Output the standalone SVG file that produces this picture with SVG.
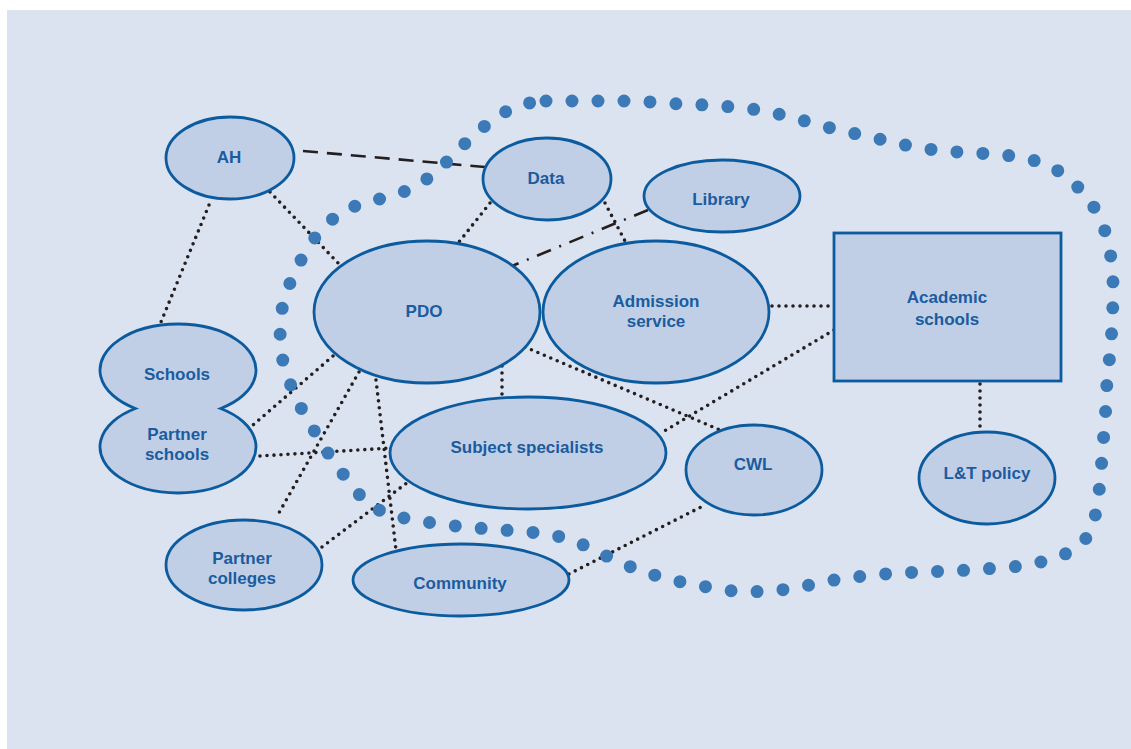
<svg xmlns="http://www.w3.org/2000/svg" width="1131" height="749" viewBox="0 0 1131 749">
<style>
.node{fill:#c1cfe6;stroke:#0b5b9e;stroke-width:2.8}
.lbl{font-family:"Liberation Sans",Arial,sans-serif;font-weight:bold;font-size:17px;fill:#1a5c9f;text-anchor:middle}
.dot{fill:none;stroke:#231f20;stroke-width:3.6;stroke-linecap:round;stroke-dasharray:0 7}
.dash{fill:none;stroke:#231f20;stroke-width:2.6;stroke-dasharray:15 9}
.dashdot{fill:none;stroke:#231f20;stroke-width:2.6;stroke-dasharray:15 9 2 9}
.blob{fill:none;stroke:#3b7ab6;stroke-width:13;stroke-linecap:round;stroke-linejoin:round}
</style>
<rect x="7" y="10" width="1124" height="739" fill="#dce3f0"/>
<g id="connectors">
<line class="dash" x1="303" y1="151" x2="485" y2="167"/>
<line class="dot" x1="209" y1="205" x2="161" y2="322"/>
<line class="dot" x1="270" y1="192" x2="340" y2="265"/>
<line class="dot" x1="490" y1="203" x2="459" y2="242"/>
<line class="dot" x1="605" y1="203" x2="625" y2="241"/>
<line class="dashdot" x1="648" y1="210" x2="512" y2="266"/>
<line class="dot" x1="772" y1="306" x2="834" y2="306"/>
<line class="dot" x1="834" y1="330" x2="661" y2="433"/>
<line class="dot" x1="980" y1="384" x2="980" y2="432"/>
<line class="dot" x1="525" y1="347" x2="720" y2="430"/>
<line class="dot" x1="502" y1="366" x2="502" y2="396"/>
<line class="dot" x1="333" y1="356" x2="253" y2="425"/>
<line class="dot" x1="359" y1="372" x2="276" y2="518"/>
<line class="dot" x1="376" y1="380" x2="396" y2="550"/>
<line class="dot" x1="260" y1="456" x2="391" y2="448"/>
<line class="dot" x1="322" y1="547" x2="408" y2="482"/>
<line class="dot" x1="569" y1="574" x2="705" y2="505"/>
</g>
<g id="boundary">
<path class="blob" stroke-dasharray="0 26" d="M546,101 L570,101 L597,101 L624,101 L652,102 L679,104 L706,105 L733,107 L760,110 L787,116 L812,123 L838,130 L866,136 L892,142 L918,148 L945,151 L972,153 L998,154 L1025,158 L1050,165 L1072,181 L1090,200 L1103,224 L1110,250 L1113,276 L1113,302 L1112,328 L1110,354 L1107,380 L1106,406 L1104,432 L1102,458 L1100,483 L1097,509 L1090,534 L1075,550 L1050,560 L1023,566 L997,568 L972,570 L947,571 L922,572 L897,573 L872,575 L847,578 L822,582 L797,588 L772,591 L747,592 L722,590 L697,585 L671,580 L644,572 L618,562 L593,549 L567,538 L540,533 L516,531 L490,529 L465,527 L439,524 L414,520 L389,515 L367,504 L350,483 L333,461 L318,437 L304,414 L292,389 L283,362 L280,336 L282,309 L290,283 L303,256 L318,233 L338,214 L364,202 L390,197 L416,187 L439,170 L456,152 L475,134 L496,117 L520,104 Z"/>
</g>
<g id="AH"><ellipse class="node" cx="230" cy="158" rx="64" ry="41"/><text class="lbl" x="229" y="163">AH</text></g>
<g id="Data"><ellipse class="node" cx="547" cy="179" rx="64" ry="41"/><text class="lbl" x="546" y="184">Data</text></g>
<g id="Library"><ellipse class="node" cx="722" cy="196" rx="78" ry="36"/><text class="lbl" x="721" y="205">Library</text></g>
<g id="PDO"><ellipse class="node" cx="427" cy="312" rx="113" ry="71"/><text class="lbl" x="424" y="317">PDO</text></g>
<g id="Admission"><ellipse class="node" cx="656" cy="312" rx="113" ry="71"/><text class="lbl" x="656" y="307">Admission</text><text class="lbl" x="656" y="327">service</text></g>
<g id="Academic"><rect class="node" x="834" y="233" width="227" height="148"/><text class="lbl" x="947" y="303">Academic</text><text class="lbl" x="947" y="325">schools</text></g>
<g id="Schools"><path class="node" d="M135.3,408.5 A78,46 0 1 1 220.7,408.5 A78,46 0 1 1 135.3,408.5 Z"/><text class="lbl" x="177" y="380">Schools</text><text class="lbl" x="177" y="440">Partner</text><text class="lbl" x="177" y="460">schools</text></g>
<g id="Subject"><ellipse class="node" cx="528" cy="453" rx="138" ry="56"/><text class="lbl" x="527" y="453">Subject specialists</text></g>
<g id="CWL"><ellipse class="node" cx="754" cy="470" rx="68" ry="45"/><text class="lbl" x="753" y="470">CWL</text></g>
<g id="LT"><ellipse class="node" cx="987" cy="478" rx="68" ry="46"/><text class="lbl" x="987" y="479">L&amp;T policy</text></g>
<g id="Colleges"><ellipse class="node" cx="244" cy="565" rx="78" ry="45"/><text class="lbl" x="242" y="564">Partner</text><text class="lbl" x="242" y="584">colleges</text></g>
<g id="Community"><ellipse class="node" cx="461" cy="580" rx="108" ry="36"/><text class="lbl" x="460" y="589">Community</text></g>
</svg>
